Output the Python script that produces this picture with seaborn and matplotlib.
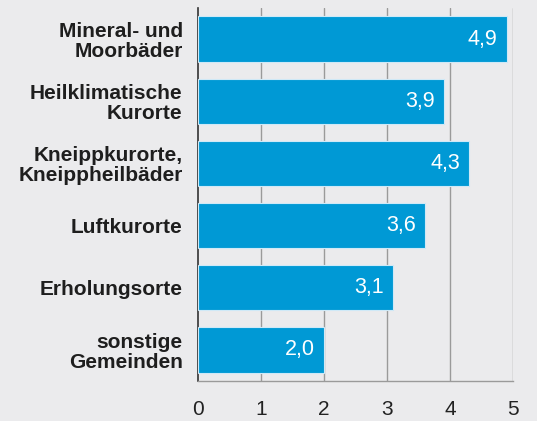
import matplotlib
matplotlib.use("Agg")
import matplotlib.pyplot as plt
import seaborn as sns

# Daten
kategorien = ["Mineral- und\nMoorbäder", "Heilklimatische\nKurorte", "Kneippkurorte,\nKneippheilbäder",
              "Luftkurorte", "Erholungsorte", "sonstige\nGemeinden"]
werte = [4.9, 3.9, 4.3, 3.6, 3.1, 2.0]
x_ticks = [0, 1, 2, 3, 4, 5]

bg = "#ebebed"
bar_color = "#0099d5"

sns.set_style("white")
plt.rcParams["font.family"] = ["Liberation Sans", "DejaVu Sans"]

fig = plt.figure(figsize=(5.37, 4.21), dpi=100, facecolor=bg)
ax = fig.add_axes([0.3687, 0.095, 0.5866, 0.886])
ax.set_facecolor(bg)

sns.barplot(x=werte, y=kategorien, orient="h", color=bar_color, saturation=1,
            width=0.73, edgecolor="#cfe9f7", linewidth=0.8, ax=ax, zorder=3)

# Werte in die Balken schreiben
for i, v in enumerate(werte):
    ax.annotate(f"{v:.1f}".replace(".", ","), xy=(v, i), xytext=(-6.5, 0),
                textcoords="offset points", ha="right", va="center",
                color="white", fontsize=15.5, zorder=4)

ax.set_xlim(0, 5)
ax.set_ylim(5.5, -0.5)
ax.set_xticks(x_ticks)
ax.set_xticklabels([str(t) for t in x_ticks], fontsize=15, color="#222222")
for t in x_ticks[1:]:
    ax.axvline(t, color="#9a9a9a", linewidth=1.0, zorder=1)

ax.set_yticks(range(len(kategorien)))
ax.set_yticklabels(kategorien, fontsize=15, fontweight="bold", color="#1e1e1e",
                   linespacing=1.05)
ax.tick_params(axis="y", length=0, pad=11)
ax.tick_params(axis="x", length=6, width=1, color="#9a9a9a", pad=8, direction="out")
ax.set_xlabel("")
ax.set_ylabel("")

for s in ["top", "right"]:
    ax.spines[s].set_visible(False)
ax.spines["left"].set_color("#333333")
ax.spines["left"].set_linewidth(1.2)
ax.spines["bottom"].set_color("#9a9a9a")
ax.spines["bottom"].set_linewidth(1.0)

fig.savefig("out.png", dpi=100, facecolor=bg)
